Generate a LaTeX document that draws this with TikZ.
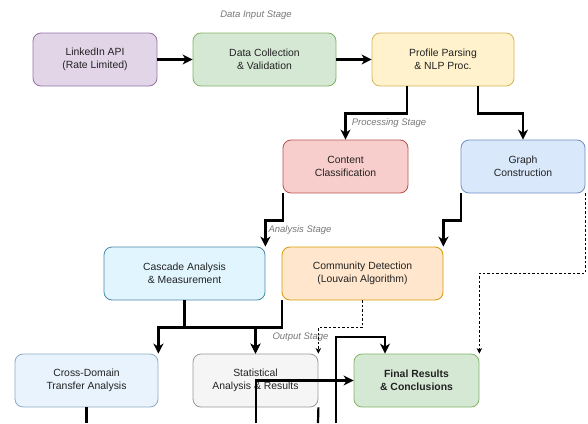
\documentclass[tikz,border=0pt]{standalone}
\usepackage{fontspec}
\setmainfont{Liberation Sans}
\usetikzlibrary{arrows.meta}

\definecolor{apifill}{HTML}{E1D5E7}
\definecolor{apidraw}{HTML}{9673A6}
\definecolor{greenfill}{HTML}{D5E8D4}
\definecolor{greendraw}{HTML}{82B366}
\definecolor{yellowfill}{HTML}{FFF2CC}
\definecolor{yellowdraw}{HTML}{D6B656}
\definecolor{redfill}{HTML}{F8CECC}
\definecolor{reddraw}{HTML}{B85450}
\definecolor{bluefill}{HTML}{DAE8FC}
\definecolor{bluedraw}{HTML}{6C8EBF}
\definecolor{cyanfill}{HTML}{E1F5FE}
\definecolor{cyandraw}{HTML}{4A8BA8}
\definecolor{palefill}{HTML}{E8F3FD}
\definecolor{paledraw}{HTML}{8FAAC4}
\definecolor{orangefill}{HTML}{FFE6CC}
\definecolor{orangedraw}{HTML}{D79B00}
\definecolor{grayfill}{HTML}{F5F5F5}
\definecolor{graydraw}{HTML}{999999}
\definecolor{boxtext}{HTML}{222222}
\definecolor{stagetext}{HTML}{777777}

\tikzset{
	stage node/.style = {
		rectangle,
		rounded corners = 8pt,
		draw,
		line width = 0.8pt,
		minimum width = 125pt,
		minimum height = 53pt,
		align = center,
		text = boxtext,
		font = \fontsize{10.4}{13}\selectfont
	},
	wide node/.style = {
		stage node,
		minimum width = 161pt
	},
	stage label/.style = {
		text = stagetext,
		font = \fontsize{9.5}{11}\selectfont\itshape
	},
	flow line/.style = {
		line width = 2.2pt,
		-{Stealth[length=10pt,width=10pt,inset=3pt]}
	},
	plain line/.style = {
		line width = 2.2pt
	},
	side line/.style = {
		line width = 0.9pt,
		dashed,
		dash pattern = on 2.5pt off 2pt,
		-{Stealth[length=5.5pt,width=5.5pt,inset=1.5pt]}
	}
}

\begin{document}
\begin{tikzpicture}[x=1pt,y=-1pt]
	\useasboundingbox (0,0) rectangle (588,423);
	\node at (95,59.5)     [stage node, minimum width=124pt, fill=apifill, draw=apidraw] (api) {LinkedIn API\\(Rate Limited)};
	\node at (264.5,59.5)  [stage node, minimum width=143pt, fill=greenfill, draw=greendraw] (collect) {Data Collection\\\& Validation};
	\node at (443,59.5)    [stage node, minimum width=142pt, fill=yellowfill, draw=yellowdraw] (parse) {Profile Parsing\\\& NLP Proc.};
	\node at (345.5,166.5) [stage node, fill=redfill, draw=reddraw] (classify) {Content\\Classification};
	\node at (523,166.5)   [stage node, minimum width=124pt, fill=bluefill, draw=bluedraw] (graph) {Graph\\Construction};
	\node at (184.5,273.5) [wide node, fill=cyanfill, draw=cyandraw] (cascade) {Cascade Analysis\\\& Measurement};
	\node at (362.5,273.5) [wide node, fill=orangefill, draw=orangedraw] (community) {Community Detection\\(Louvain Algorithm)};
	\node at (86.5,380.5)  [stage node, minimum width=143pt, fill=palefill, draw=paledraw] (transfer) {Cross-Domain\\Transfer Analysis};
	\node at (255.5,380.5) [stage node, fill=grayfill, draw=graydraw] (stats) {Statistical\\Analysis \& Results};
	\node at (416.5,380.5) [stage node, fill=greenfill, draw=greendraw] (final) {\textbf{Final Results}\\\textbf{\& Conclusions}};

	\node at (256,15)  [stage label] (inputlabel) {Data Input Stage};
	\node at (389,123) [stage label] (processlabel) {Processing Stage};
	\node at (300,230) [stage label] (analysislabel) {Analysis Stage};
	\node at (300.5,337) [stage label] (outputlabel) {Output Stage};

	\coordinate (transferout) at (86.5,423);
	\coordinate (statsin) at (256,423);
	\coordinate (statsout) at (318,423);
	\coordinate (finalin) at (336,423);

	\draw[flow line] (api) -- (collect);
	\draw[flow line] (collect) -- (parse);
	\draw[flow line] ([xshift=-36pt]parse.south) -- ++(0,27) -| (classify.north);
	\draw[flow line] ([xshift=35pt]parse.south) -- ++(0,27) -| (graph.north);
	\draw[flow line] (classify.south west) -- ++(0,27) -| (cascade.north east);
	\draw[flow line] (graph.south west) -- ++(0,27) -| (community.north east);
	\draw[side line] (graph.south east) -- ++(0,80) -| (final.north east);
	\draw[side line] (community.south) -- ++(0,27) -| (stats.north east);
	\draw[flow line] (cascade.south) -- ++(0,27) -| (transfer.north east);
	\draw[flow line] (cascade.south) -- ++(0,27) -| (stats.north);
	\draw[flow line] (community.south west) -- ++(0,27) -| (stats.north);
	\draw[plain line] (transfer.south) -- (transferout);
	\draw[flow line] (statsin) |- (final.west);
	\draw[plain line] (stats.south east) -- (statsout);
	\draw[flow line] (finalin) |- ([xshift=-31.5pt,yshift=17pt]final.north) -- ([xshift=-31.5pt]final.north);
\end{tikzpicture}
\end{document}
